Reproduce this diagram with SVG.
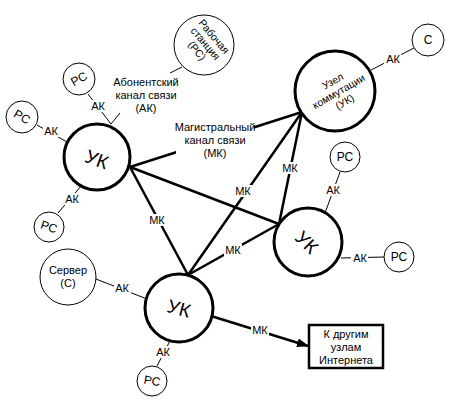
<svg xmlns="http://www.w3.org/2000/svg" width="452" height="401" viewBox="0 0 452 401">
<style>
text{font-family:"Liberation Sans",Arial,sans-serif;fill:#000;text-anchor:middle}
.lbl{font-size:11px}
.sml{font-size:10.5px}
.big{font-size:19px}
.pc{font-size:12px}
.thin{stroke:#000;stroke-width:1;fill:none}
.thick{stroke:#000;stroke-width:2.5;fill:none}
.uk{fill:#fff;stroke:#000;stroke-width:3}
.sm{fill:#fff;stroke:#000;stroke-width:1}
.bg{fill:#fff;stroke:none}
</style>
<defs>
<marker id="arr" markerWidth="12" markerHeight="9" refX="11" refY="4.5" orient="auto" markerUnits="userSpaceOnUse">
<path d="M0,0 L12,4.5 L0,9 z" fill="#000"/>
</marker>
</defs>
<g id="connectors">
<line class="thick" x1="130" y1="167" x2="302" y2="112"/>
<line class="thick" x1="130" y1="167" x2="279" y2="224"/>
<line class="thick" x1="130" y1="167" x2="188" y2="275"/>
<line class="thick" x1="188" y1="275" x2="302" y2="112"/>
<line class="thick" x1="188" y1="275" x2="279" y2="224"/>
<line class="thick" x1="279" y1="224" x2="302" y2="112"/>
<line class="thick" x1="211" y1="316" x2="308" y2="346" marker-end="url(#arr)"/>
<line class="thin" x1="182" y1="67" x2="170" y2="73"/>
<line class="thin" x1="120" y1="113" x2="111" y2="124"/>
<line class="thin" x1="88" y1="94" x2="111" y2="124"/>
<line class="thin" x1="37" y1="125" x2="67" y2="142"/>
<line class="thin" x1="58" y1="213" x2="82" y2="185"/>
<line class="thin" x1="96" y1="279" x2="147" y2="299"/>
<line class="thin" x1="157" y1="366" x2="171" y2="339"/>
<line class="thin" x1="340" y1="172" x2="325" y2="213"/>
<line class="thin" x1="341" y1="258" x2="384" y2="257"/>
<line class="thin" x1="371" y1="70" x2="414" y2="48"/>
<g id="mk-labels">
<rect class="bg" x="176" y="118" width="78" height="42"/>
<text class="lbl" x="215" y="131">Магистральный</text>
<text class="lbl" x="215" y="144">канал связи</text>
<text class="lbl" x="215" y="157">(МК)</text>
<rect class="bg" x="148" y="214" width="18" height="12"/>
<text class="lbl" x="157" y="224">МК</text>
<rect class="bg" x="234" y="185" width="18" height="12"/>
<text class="lbl" x="243" y="195">МК</text>
<rect class="bg" x="281" y="162" width="18" height="12"/>
<text class="lbl" x="290" y="172">МК</text>
<rect class="bg" x="224" y="244" width="18" height="12"/>
<text class="lbl" x="233" y="254">МК</text>
<rect class="bg" x="251" y="324" width="18" height="12"/>
<text class="lbl" x="260" y="334">МК</text>
</g>
<g id="ak-labels">
<text class="lbl" x="146" y="86">Абонентский</text>
<text class="lbl" x="146" y="99">канал связи</text>
<text class="lbl" x="146" y="112">(АК)</text>
<rect class="bg" x="90" y="100" width="17" height="12"/>
<text class="lbl" x="98" y="110">АК</text>
<rect class="bg" x="43" y="125" width="17" height="12"/>
<text class="lbl" x="51" y="135">АК</text>
<rect class="bg" x="64" y="193" width="17" height="12"/>
<text class="lbl" x="72" y="203">АК</text>
<rect class="bg" x="114" y="282" width="17" height="12"/>
<text class="lbl" x="122" y="292">АК</text>
<rect class="bg" x="155" y="346" width="17" height="12"/>
<text class="lbl" x="163" y="356">АК</text>
<rect class="bg" x="325" y="184" width="17" height="12"/>
<text class="lbl" x="333" y="194">АК</text>
<rect class="bg" x="351" y="252" width="17" height="12"/>
<text class="lbl" x="360" y="262">АК</text>
<rect class="bg" x="384" y="53" width="17" height="12"/>
<text class="lbl" x="393" y="63">АК</text>
</g>
</g>
<g id="uk-left">
<circle class="uk" cx="97" cy="157" r="33"/>
<text class="big" transform="translate(97,159) rotate(20)" y="7">УК</text>
</g>
<g id="uk-top">
<circle class="uk" cx="335" cy="91" r="40"/>
<g transform="translate(339,92) rotate(-30)">
<text class="sml" y="-9">Узел</text>
<text class="sml" y="3">коммутации</text>
<text class="sml" y="15">(УК)</text>
</g>
</g>
<g id="uk-right">
<circle class="uk" cx="308" cy="242" r="34"/>
<text class="big" transform="translate(307,242) rotate(45)" y="7">УК</text>
</g>
<g id="uk-bottom">
<circle class="uk" cx="179" cy="308" r="34"/>
<text class="big" transform="translate(179,308) rotate(15)" y="7">УК</text>
</g>
<g id="ws">
<circle class="sm" cx="204" cy="45" r="30"/>
<g transform="translate(205,44) rotate(50)">
<text class="sml" y="-8">Рабочая</text>
<text class="sml" y="3">станция</text>
<text class="sml" y="14">(РС)</text>
</g>
</g>
<g id="pc1">
<circle class="sm" cx="79" cy="79" r="16"/>
<text class="pc" transform="translate(79,79) rotate(-30)" y="4">РС</text>
</g>
<g id="pc2">
<circle class="sm" cx="22" cy="117" r="16"/>
<text class="pc" transform="translate(22,117) rotate(30)" y="4">РС</text>
</g>
<g id="pc3">
<circle class="sm" cx="49" cy="227" r="15"/>
<text class="pc" transform="translate(49,227) rotate(20)" y="4">РС</text>
</g>
<g id="server">
<circle class="sm" cx="68" cy="277" r="28"/>
<text class="lbl" x="68" y="274">Сервер</text>
<text class="lbl" x="68" y="287">(С)</text>
</g>
<g id="pc4">
<circle class="sm" cx="152" cy="381" r="15"/>
<text class="pc" transform="translate(152,381) rotate(10)" y="4">РС</text>
</g>
<g id="s2">
<circle class="sm" cx="428" cy="40" r="16"/>
<text class="pc" x="428" y="44">С</text>
</g>
<g id="pc5">
<circle class="sm" cx="345" cy="157" r="15"/>
<text class="pc" x="345" y="161">РС</text>
</g>
<g id="pc6">
<circle class="sm" cx="399" cy="257" r="15"/>
<text class="pc" x="399" y="261">РС</text>
</g>
<g id="internet">
<rect x="309" y="325" width="74" height="43" fill="#fff" stroke="#000" stroke-width="2.5"/>
<text class="lbl" x="346" y="338">К другим</text>
<text class="lbl" x="346" y="351">узлам</text>
<text class="lbl" x="346" y="364">Интернета</text>
</g>
</svg>
